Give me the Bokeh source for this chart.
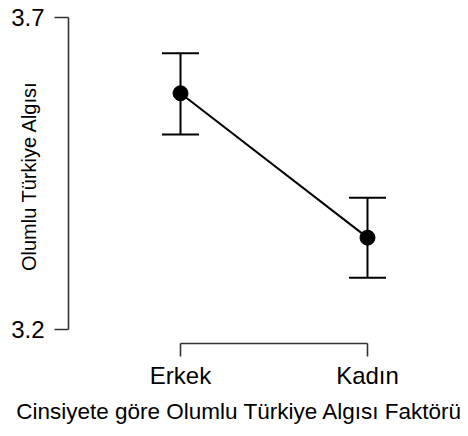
from bokeh.plotting import figure
from bokeh.models import ColumnDataSource, Whisker, TeeHead, FixedTicker, Range1d
from bokeh.embed import file_html
from bokeh.resources import INLINE

# data
categories = ["Erkek", "Kadın"]
means = [3.578, 3.347]
upper = [3.642, 3.411]
lower = [3.512, 3.283]
y_ticks = [3.2, 3.7]
x_title = "Cinsiyete göre Olumlu Türkiye Algısı Faktörü"
y_title = "Olumlu Türkiye Algısı"

xs = list(range(len(categories)))
src = ColumnDataSource(dict(x=xs, mean=means, upper=upper, lower=lower))

FONT = "Liberation Sans"

p = figure(width=468, height=436, output_backend="svg", toolbar_location=None,
           x_range=Range1d(-0.599, 1.23), y_range=Range1d(3.1776, 3.7136),
           min_border_left=68, min_border_right=58, min_border_top=8, min_border_bottom=93)
p.outline_line_color = None
p.xgrid.visible = False
p.ygrid.visible = False
p.background_fill_color = "white"
p.border_fill_color = "white"

# error bars
w = Whisker(source=src, base="x", upper="upper", lower="lower",
            line_color="black", line_width=2,
            upper_head=TeeHead(size=37, line_color="black", line_width=2),
            lower_head=TeeHead(size=37, line_color="black", line_width=2))
p.add_layout(w)

p.line("x", "mean", source=src, line_color="black", line_width=2)
p.scatter("x", "mean", source=src, size=15, fill_color="black", line_color="black")

# y axis
ya = p.yaxis[0]
ya.ticker = FixedTicker(ticks=y_ticks)
ya.bounds = (min(y_ticks), max(y_ticks))
ya.minor_tick_line_color = None
ya.major_tick_out = 14
ya.major_tick_in = 0
ya.major_label_standoff = 10
ya.major_label_text_font = FONT
ya.major_label_text_font_size = "24px"
ya.major_label_text_color = "black"
ya.axis_line_color = "#333333"
ya.axis_line_width = 1.6
ya.major_tick_line_color = "#333333"
ya.major_tick_line_width = 1.6
ya.axis_label = y_title
ya.axis_label_text_font = FONT
ya.axis_label_text_font_size = "20px"
ya.axis_label_text_font_style = "normal"
ya.axis_label_text_color = "black"
ya.axis_label_standoff = -32

# x axis
xa = p.xaxis[0]
xa.ticker = FixedTicker(ticks=xs)
xa.major_label_overrides = {i: c for i, c in zip(xs, categories)}
xa.bounds = (min(xs), max(xs))
xa.minor_tick_line_color = None
xa.major_tick_out = 13
xa.major_tick_in = 0
xa.major_label_standoff = 5
xa.major_label_text_font = FONT
xa.major_label_text_font_size = "24px"
xa.major_label_text_color = "black"
xa.axis_line_color = "#333333"
xa.axis_line_width = 1.6
xa.major_tick_line_color = "#333333"
xa.major_tick_line_width = 1.6
xa.axis_label = x_title
xa.axis_label_text_font = FONT
xa.axis_label_text_font_size = "22.5px"
xa.axis_label_text_font_style = "normal"
xa.axis_label_text_color = "black"
xa.axis_label_standoff = 7

open("out.html", "w").write(file_html(p, INLINE))
